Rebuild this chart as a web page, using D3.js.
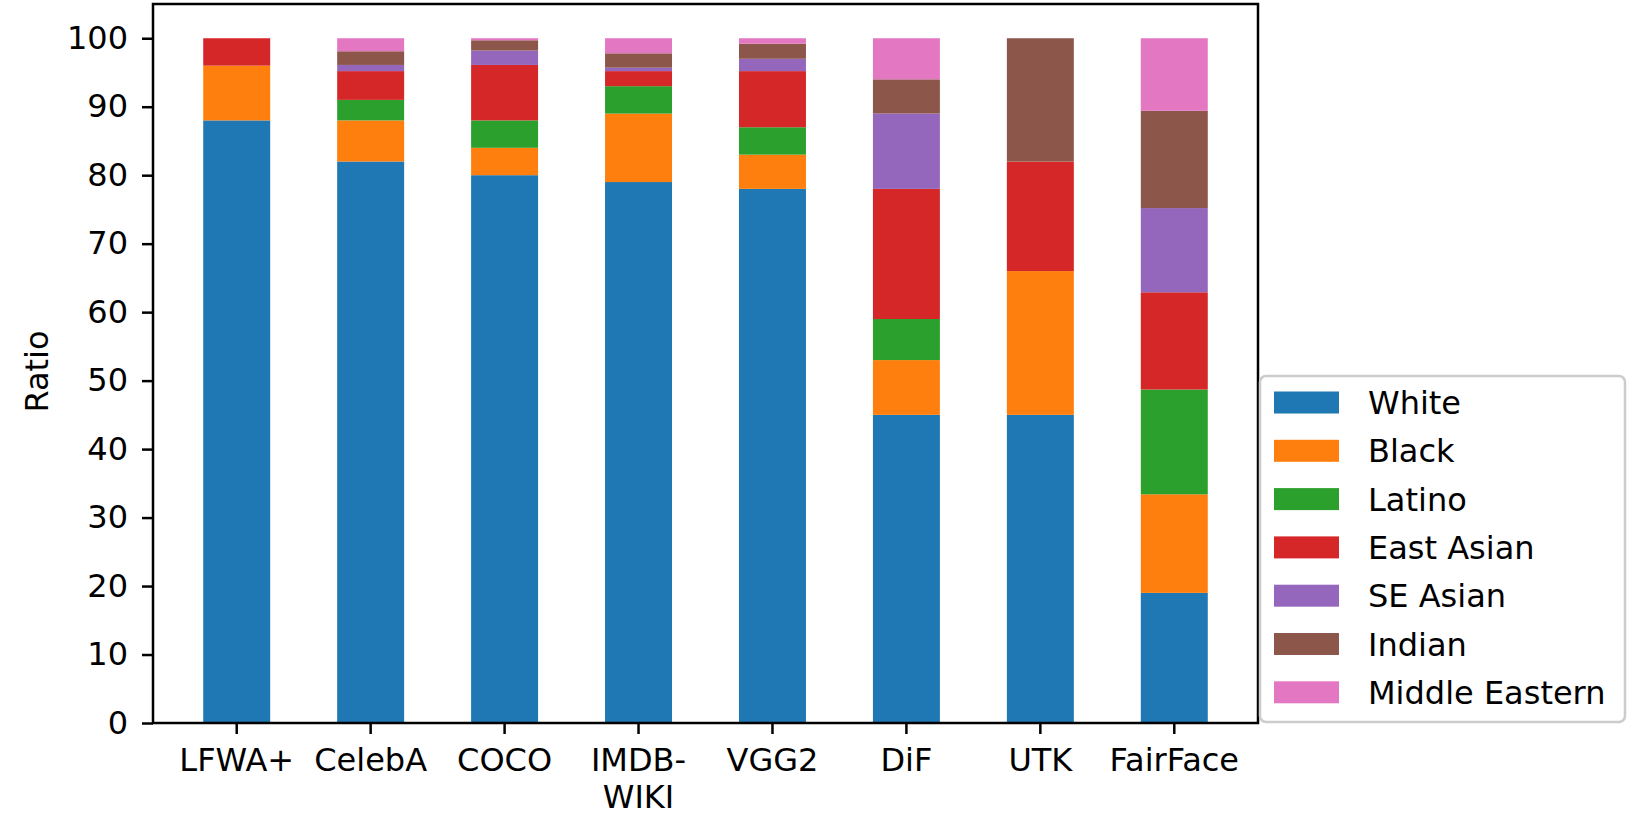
<!DOCTYPE html>
<html>
<head>
<meta charset="utf-8">
<script src="https://cdn.jsdelivr.net/npm/d3@7"></script>
<style>
  body { margin: 0; background: #fff; }
  text { font-family: "DejaVu Sans", sans-serif; }
</style>
</head>
<body>
<script>
var w = 1652;
var h = 819;

// datasets on the x axis
var datasets = ["LFWA+", "CelebA", "COCO", "IMDB-\nWIKI", "VGG2", "DiF", "UTK", "FairFace"];
var races = ["White", "Black", "Latino", "East Asian", "SE Asian", "Indian", "Middle Eastern"];
var colors = ["#1f77b4", "#ff7f0e", "#2ca02c", "#d62728", "#9467bd", "#8c564b", "#e377c2"];

// share of each race per dataset
var white         = [88, 82,  80,   79,   78,   45, 45, 19];
var black         = [ 8,  6,   4,   10,    5,    8, 21, 14.4];
var latino        = [ 0,  3,   4,    4,    4,    6,  0, 15.3];
var eastAsian     = [ 4,  4.2, 8.1,  2.2,  8.2, 19, 16, 14.2];
var seAsian       = [ 0,  0.9, 2.1,  0.5,  1.8, 11,  0, 12.3];
var indian        = [ 0,  2,   1.5,  2.1,  2.2,  5, 18, 14.2];
var middleEastern = [ 0,  1.9, 0.3,  2.2,  0.8,  6,  0, 10.6];

var yTicks = [0, 10, 20, 30, 40, 50, 60, 70, 80, 90, 100];

var series = [white, black, latino, eastAsian, seAsian, indian, middleEastern];
var rows = datasets.map(function (d, i) {
  var r = { name: d };
  races.forEach(function (race, j) { r[race] = series[j][i]; });
  return r;
});

// plot area edges
var pLeft = 153, pRight = 1258, pTop = 4, pBottom = 723;

var svg = d3.select("body")
  .append("svg")
  .attr("width", w)
  .attr("height", h);

var x = d3.scaleBand()
  .domain(datasets)
  .range([pLeft, pRight])
  .paddingInner(0.5)
  .paddingOuter(0.375);

var y = d3.scaleLinear()
  .domain([0, 105])
  .range([pBottom, pTop]);

var color = d3.scaleOrdinal().domain(races).range(colors);

var stacked = d3.stack().keys(races)(rows);

svg.selectAll("g.layer")
  .data(stacked)
  .enter()
  .append("g")
  .attr("class", "layer")
  .attr("fill", function (d) { return color(d.key); })
  .selectAll("rect")
  .data(function (d) { return d; })
  .enter()
  .append("rect")
  .attr("x", function (d) { return x(d.data.name); })
  .attr("width", x.bandwidth())
  .attr("y", function (d) { return y(d[1]); })
  .attr("height", function (d) { return y(d[0]) - y(d[1]); });

// y axis
var yAxis = svg.append("g")
  .attr("transform", "translate(" + pLeft + ",0)")
  .call(d3.axisLeft(y).tickValues(yTicks).tickSize(11).tickPadding(14));

// x axis
var xAxis = svg.append("g")
  .attr("transform", "translate(0," + pBottom + ")")
  .call(d3.axisBottom(x).tickSize(11).tickPadding(14));

[yAxis, xAxis].forEach(function (a) {
  a.select(".domain").remove();
  a.selectAll("line").attr("stroke", "#000").attr("stroke-width", 2.5);
  a.selectAll("text").attr("fill", "#000").style("font-size", "32px")
    .style("font-family", "DejaVu Sans");
});

// split two-line labels
xAxis.selectAll("text").each(function (d) {
  var parts = d.split("\n");
  if (parts.length < 2) return;
  var t = d3.select(this).text(null);
  parts.forEach(function (p, i) {
    t.append("tspan").attr("x", 0).attr("dy", i === 0 ? "0.71em" : "1.15em").text(p);
  });
  t.attr("dy", null);
});

// frame
svg.append("rect")
  .attr("x", pLeft)
  .attr("y", pTop)
  .attr("width", pRight - pLeft)
  .attr("height", pBottom - pTop)
  .attr("fill", "none")
  .attr("stroke", "#000")
  .attr("stroke-width", 2.5);

svg.append("text")
  .attr("transform", "translate(48," + ((pTop + pBottom) / 2 + 8) + ") rotate(-90)")
  .attr("text-anchor", "middle")
  .style("font-size", "32px")
  .text("Ratio");

// legend
var lg = svg.append("g").attr("transform", "translate(1260,376)");
lg.append("rect")
  .attr("width", 365)
  .attr("height", 346)
  .attr("rx", 6)
  .attr("fill", "#fff")
  .attr("fill-opacity", 0.8)
  .attr("stroke", "#ccc")
  .attr("stroke-width", 2.5);

var items = lg.selectAll("g.item")
  .data(races)
  .enter()
  .append("g")
  .attr("class", "item")
  .attr("transform", function (d, i) { return "translate(0," + (26.5 + i * 48.3) + ")"; });

items.append("rect")
  .attr("x", 14)
  .attr("y", -11)
  .attr("width", 65)
  .attr("height", 22)
  .attr("fill", function (d) { return color(d); });

items.append("text")
  .attr("x", 108)
  .attr("y", 11.5)
  .style("font-size", "32px")
  .text(function (d) { return d; });
</script>
</body>
</html>
